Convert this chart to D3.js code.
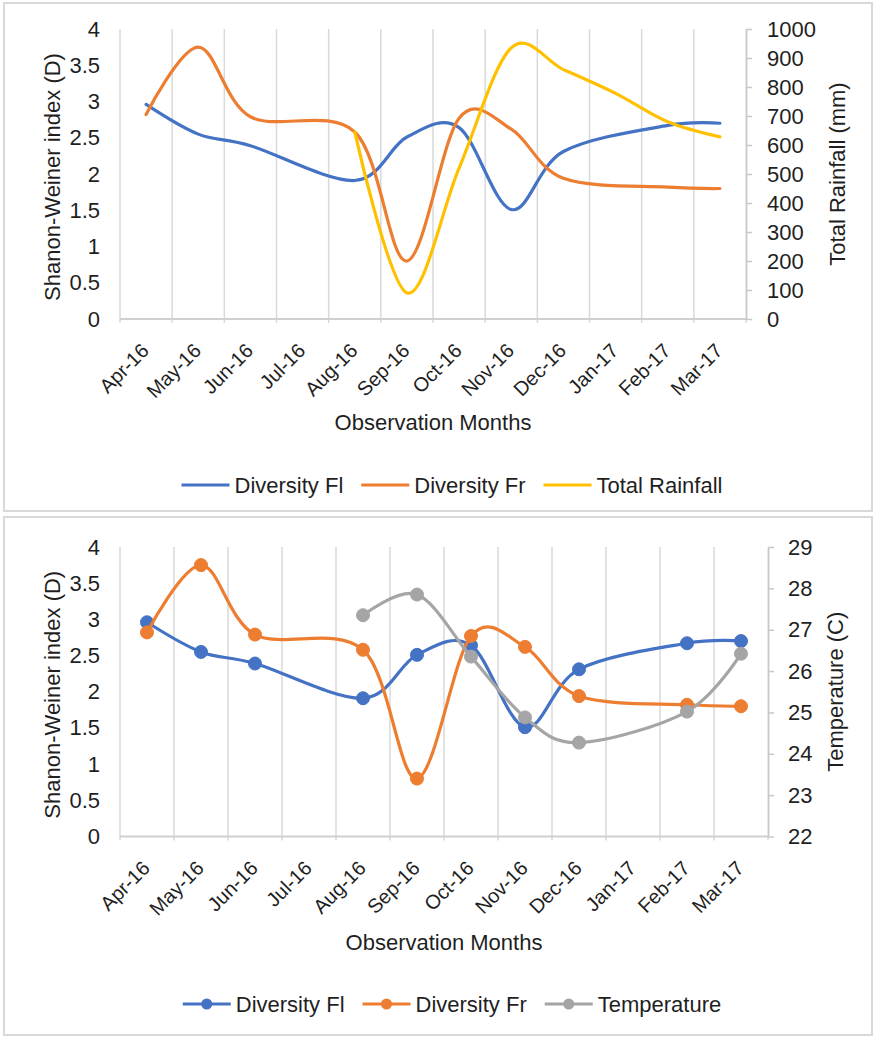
<!DOCTYPE html>
<html><head><meta charset="utf-8">
<script src="https://cdn.jsdelivr.net/npm/d3@7"></script>
<style>
body{margin:0;background:#fff}
svg{display:block}
text{font-family:"Liberation Sans",Arial,Helvetica,sans-serif;fill:#1f1f1f}
</style>
</head><body>
<svg id="c" width="876" height="1038"></svg>
<script>
// ---------- DATA ----------
const months = ["Apr-16","May-16","Jun-16","Jul-16","Aug-16","Sep-16","Oct-16","Nov-16","Dec-16","Jan-17","Feb-17","Mar-17"];
const diversityFl = [2.96, 2.55, 2.39, null, 1.91, 2.51, 2.64, 1.51, 2.31, null, 2.67, 2.70];
const diversityFr = [2.82, 3.75, 2.79, null, 2.58, 0.80, 2.77, 2.62, 1.94, null, 1.82, 1.80];
const totalRainfall = [null, null, null, null, 645, 90, 520, 935, 860, 778, 680, 628];
const temperature = [null, null, null, null, 27.35, 27.85, 26.35, 24.88, 24.27, null, 25.02, 26.42];
const shannonTicks = [0, 0.5, 1, 1.5, 2, 2.5, 3, 3.5, 4];
const rainfallTicks = [0, 100, 200, 300, 400, 500, 600, 700, 800, 900, 1000];
const temperatureTicks = [22, 23, 24, 25, 26, 27, 28, 29];

const C = {blue:"#4472C4", orange:"#ED7D31", yellow:"#FFC000", gray:"#A5A5A5"};
const svg = d3.select("#c");

function drawPanel(o) {
  const g = svg.append("g");
  g.append("rect").attr("x", 4).attr("y", o.boxTop).attr("width", 868).attr("height", o.boxH)
    .attr("fill", "#fff").attr("stroke", "#d9d9d9").attr("stroke-width", 2);

  const left = 120;
  const x = d3.scaleBand().domain(months).range([left, o.right]).padding(0);
  const yL = d3.scaleLinear().domain([0, 4]).range([o.bottom, o.top]);
  const yR = d3.scaleLinear().domain(d3.extent(o.rTicks)).range([o.bottom, o.top]);
  const cx = m => x(m) + x.bandwidth() / 2;

  // vertical gridlines at category boundaries
  const bounds = months.map(m => x(m));
  g.selectAll(".grid").data(bounds).join("line")
    .attr("x1", d => d).attr("x2", d => d).attr("y1", o.top).attr("y2", o.bottom)
    .attr("stroke", "#d9d9d9").attr("stroke-width", 1.5);
  // small ticks below category axis
  g.selectAll(".xt").data(bounds.concat([o.right])).join("line")
    .attr("x1", d => d).attr("x2", d => d).attr("y1", o.bottom).attr("y2", o.bottom + 4)
    .attr("stroke", "#d9d9d9").attr("stroke-width", 1.5);
  // bottom axis line
  g.append("line").attr("x1", left).attr("x2", o.right).attr("y1", o.bottom).attr("y2", o.bottom)
    .attr("stroke", "#d0d0d0").attr("stroke-width", 1.8);

  // left axis
  const la = g.append("g").attr("transform", `translate(${left},0)`)
    .call(d3.axisLeft(yL).tickValues(shannonTicks).tickFormat(d => String(d)).tickSize(0).tickPadding(20));
  la.select(".domain").remove();
  la.selectAll("text").attr("font-size", 22).attr("font-family", null).attr("fill", "#1f1f1f");

  // right axis
  const ra = g.append("g").attr("transform", `translate(${o.right},0)`)
    .call(d3.axisRight(yR).tickValues(o.rTicks).tickFormat(d => String(d)).tickSize(6).tickSizeOuter(0).tickPadding(o.rPad));
  ra.select(".domain").attr("stroke", "#c8c8c8").attr("stroke-width", 1.8);
  ra.selectAll(".tick line").attr("stroke", "#c8c8c8").attr("stroke-width", 1.5);
  ra.selectAll("text").attr("font-size", 22).attr("font-family", null).attr("fill", "#1f1f1f");

  // x labels
  g.selectAll(".xl").data(months).join("text")
    .attr("transform", d => `translate(${cx(d) + 4},${o.bottom + 33}) rotate(-45)`)
    .attr("text-anchor", "end").attr("font-size", 20).text(d => d);

  // axis titles
  const midY = (o.top + o.bottom) / 2;
  g.append("text").attr("transform", `translate(52,${midY + 3}) rotate(-90)`)
    .attr("text-anchor", "middle").attr("dominant-baseline", "central").attr("font-size", 22)
    .text("Shanon-Weiner index (D)");
  g.append("text").attr("transform", `translate(${o.rTitleX},${midY}) rotate(-90)`)
    .attr("text-anchor", "middle").attr("dominant-baseline", "central").attr("font-size", 22)
    .text(o.rTitle);
  g.append("text").attr("x", (left + o.right) / 2).attr("y", o.xTitleY)
    .attr("text-anchor", "middle").attr("dominant-baseline", "central").attr("font-size", 22)
    .text("Observation Months");

  // series
  const curve = d3.curveCardinal.tension(0);
  o.series.forEach(s => {
    const sc = s.axis === "R" ? yR : yL;
    const pts = months.map((m, i) => ({m, v: s.values[i]})).filter(d => d.v != null);
    g.append("path").datum(pts)
      .attr("d", d3.line().x(d => cx(d.m)).y(d => sc(d.v)).curve(curve))
      .attr("fill", "none").attr("stroke", s.color).attr("stroke-width", 3.2)
      .attr("stroke-linejoin", "round").attr("stroke-linecap", "round");
    if (o.markers) {
      g.selectAll(null).data(pts).join("circle")
        .attr("cx", d => cx(d.m)).attr("cy", d => sc(d.v)).attr("r", 6.5)
        .attr("fill", s.color).attr("stroke", s.color).attr("stroke-width", 1);
    }
  });

  // legend
  const lg = g.append("g");
  let xpos = 0;
  o.series.forEach((s, i) => {
    const it = lg.append("g").attr("transform", `translate(${xpos},0)`);
    it.append("line").attr("x1", 0).attr("x2", 48).attr("y1", 0).attr("y2", 0)
      .attr("stroke", s.color).attr("stroke-width", 3.2);
    if (o.markers) it.append("circle").attr("cx", 24).attr("cy", 0).attr("r", 5.5).attr("fill", s.color);
    const t = it.append("text").attr("x", 53).attr("y", 0).attr("dominant-baseline", "central")
      .attr("font-size", 22).text(s.name);
    xpos += 53 + t.node().getComputedTextLength() + 18;
  });
  const total = xpos - 18;
  lg.attr("transform", `translate(${452 - total / 2},${o.legendY})`);
}

drawPanel({
  boxTop: 3, boxH: 508, top: 29, bottom: 319, right: 746,
  rTicks: rainfallTicks, rPad: 15, rTitle: "Total Rainfall (mm)", rTitleX: 837,
  xTitleY: 422, legendY: 485, markers: false,
  series: [
    {name: "Diversity Fl", values: diversityFl, color: C.blue, axis: "L"},
    {name: "Diversity Fr", values: diversityFr, color: C.orange, axis: "L"},
    {name: "Total Rainfall", values: totalRainfall, color: C.yellow, axis: "R"}
  ]
});

drawPanel({
  boxTop: 517, boxH: 518, top: 547, bottom: 836.5, right: 768,
  rTicks: temperatureTicks, rPad: 14, rTitle: "Temperature (C)", rTitleX: 835,
  xTitleY: 942, legendY: 1004, markers: true,
  series: [
    {name: "Diversity Fl", values: diversityFl, color: C.blue, axis: "L"},
    {name: "Diversity Fr", values: diversityFr, color: C.orange, axis: "L"},
    {name: "Temperature", values: temperature, color: C.gray, axis: "R"}
  ]
});
</script>
</body></html>
